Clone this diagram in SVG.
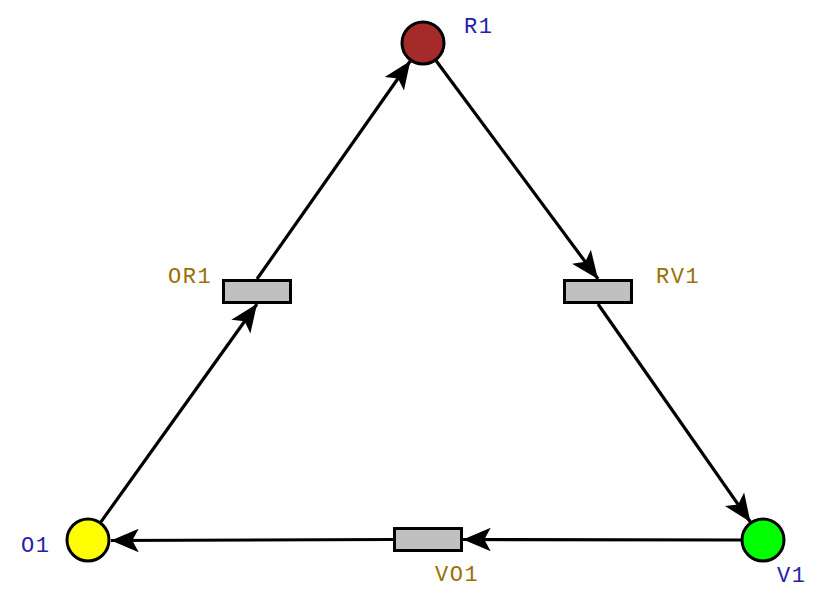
<svg xmlns="http://www.w3.org/2000/svg" width="833" height="602" viewBox="0 0 833 602">
<style>
.place{stroke:#000;stroke-width:3}
.trans{fill:#c0c0c0;stroke:#000;stroke-width:3}
.arc{fill:none;stroke:#000;stroke-width:3.2;marker-end:url(#ah)}
.pl{font-family:"Liberation Mono",monospace;font-size:22px;letter-spacing:1.5px;fill:#2222aa}
.tl{font-family:"Liberation Mono",monospace;font-size:22px;letter-spacing:1.5px;fill:#9a7000}
</style>
<defs>
<marker id="ah" markerUnits="userSpaceOnUse" markerWidth="32" markerHeight="32" viewBox="-28 -13 30 26" refX="0" refY="0" orient="auto">
<path d="M0,0 L-26,-11 L-20,0 L-26,11 Z" fill="#000"/>
</marker>
</defs>
<rect width="833" height="602" fill="#fff"/>
<g id="connectors">
<line class="arc" x1="100.8" y1="522.1" x2="257" y2="304"/>
<line class="arc" x1="257" y1="279" x2="410.3" y2="61"/>
<line class="arc" x1="436.1" y1="60.7" x2="598" y2="279"/>
<line class="arc" x1="598" y1="304" x2="750.4" y2="522"/>
<line class="arc" x1="741" y1="540" x2="463" y2="539.5"/>
<line class="arc" x1="393" y1="539.5" x2="111" y2="540.5"/>
</g>
<g id="R1"><circle class="place" cx="423" cy="43" r="21" fill="#a52a2a"/><text class="pl" x="464" y="33">R1</text></g>
<g id="O1"><circle class="place" cx="88" cy="540" r="21" fill="#ffff00"/><text class="pl" x="21" y="552">O1</text></g>
<g id="V1"><circle class="place" cx="763" cy="540" r="21" fill="#00ff00"/><text class="pl" x="777" y="582">V1</text></g>
<g id="OR1"><rect class="trans" x="223.5" y="280.5" width="67" height="22"/><text class="tl" x="168" y="283">OR1</text></g>
<g id="RV1"><rect class="trans" x="564.5" y="280.5" width="67" height="22"/><text class="tl" x="656" y="283">RV1</text></g>
<g id="VO1"><rect class="trans" x="394.5" y="528.5" width="67" height="22"/><text class="tl" x="435" y="581">VO1</text></g>
</svg>
